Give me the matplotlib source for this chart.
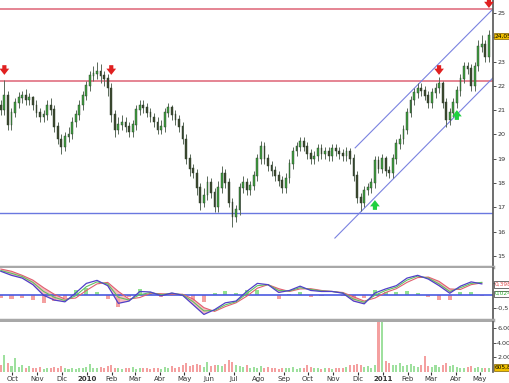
import numpy as np
import pandas as pd
import matplotlib
matplotlib.use('Agg')
from matplotlib import pyplot as plt

# precios (cada barra ~3 sesiones)
close = [21.0, 21.6, 20.4, 20.9, 21.3, 21.5, 21.6, 21.4, 21.5, 21.2,
         20.9, 20.7, 20.8, 21.2, 21.0, 20.3, 19.8, 19.5, 19.9, 20.0,
         20.5, 20.8, 21.2, 21.6, 22.0, 22.4, 22.5, 22.6, 22.4, 22.3,
         21.9, 20.8, 20.2, 20.4, 20.5, 20.3, 20.1, 20.4, 21.0, 21.2,
         21.1, 20.9, 20.7, 20.5, 20.2, 20.3, 20.9, 21.1, 20.8, 20.6,
         20.3, 19.8, 19.0, 18.6, 18.4, 17.8, 17.2, 17.5, 18.0, 17.6,
         17.0, 17.8, 18.4, 18.0, 17.2, 16.6, 16.9, 17.8, 18.0, 17.7,
         17.9, 18.3, 19.0, 19.5, 19.0, 18.7, 18.5, 18.3, 18.1, 17.8,
         18.2, 18.8, 19.3, 19.5, 19.7, 19.5, 19.2, 19.0, 19.1, 19.4,
         19.2, 19.3, 19.1, 19.4, 19.3, 19.2, 19.1, 19.3, 19.0, 18.3,
         17.4, 17.2, 17.7, 17.8, 18.0, 18.9, 18.6, 19.0, 18.5, 18.4,
         19.0, 19.6, 19.8, 20.2, 20.9, 21.4, 21.7, 21.9, 21.8, 21.6,
         21.3, 21.7, 21.9, 22.1, 21.3, 20.6, 20.9, 21.3, 21.8, 22.3,
         22.8, 22.7, 22.0, 22.8, 23.6, 23.7, 23.2, 24.05]
high = [21.4, 22.25, 21.8, 21.1, 21.5, 21.75, 21.8, 21.85, 21.7, 21.6,
        21.4, 21.1, 21.0, 21.4, 21.5, 21.2, 20.5, 20.0, 20.1, 20.3,
        20.7, 21.0, 21.4, 21.8, 22.2, 22.6, 22.8, 23.0, 22.9, 22.6,
        22.5, 22.1, 21.0, 20.7, 20.8, 20.7, 20.5, 20.6, 21.2, 21.4,
        21.4, 21.3, 21.1, 20.9, 20.7, 20.6, 21.1, 21.3, 21.2, 21.0,
        20.8, 20.5, 20.0, 19.2, 18.8, 18.6, 18.0, 17.8, 18.3, 18.2,
        17.8, 18.1, 18.7, 18.6, 18.2, 17.4, 17.1, 18.0, 18.3, 18.2,
        18.1, 18.5, 19.2, 19.75, 19.7, 19.2, 18.9, 18.7, 18.5, 18.3,
        18.4, 19.0, 19.5, 19.7, 19.9, 19.9, 19.7, 19.4, 19.3, 19.6,
        19.6, 19.5, 19.5, 19.6, 19.6, 19.5, 19.4, 19.5, 19.45, 19.2,
        18.5, 17.6, 17.9, 18.0, 18.2, 19.1, 19.1, 19.2, 19.1, 18.7,
        19.2, 19.8, 20.0, 20.4, 21.1, 21.6, 21.9, 22.1, 22.1, 22.0,
        21.8, 21.9, 22.1, 22.35, 22.2, 21.5, 21.1, 21.5, 22.0, 22.5,
        23.0, 23.0, 22.9, 23.0, 23.9, 24.1, 23.9, 24.3]
low = [20.8, 20.8, 20.2, 20.2, 20.7, 21.1, 21.3, 21.2, 21.2, 21.0,
       20.7, 20.5, 20.5, 20.6, 20.8, 20.1, 19.6, 19.2, 19.3, 19.7,
       19.8, 20.3, 20.6, 21.0, 21.4, 21.8, 22.2, 22.3, 22.1, 22.0,
       21.6, 20.5, 19.9, 20.0, 20.2, 20.1, 19.9, 19.9, 20.2, 20.8,
       20.9, 20.7, 20.5, 20.3, 20.0, 20.0, 20.1, 20.7, 20.6, 20.4,
       20.1, 19.6, 18.8, 18.3, 18.2, 17.5, 16.9, 17.0, 17.3, 17.4,
       16.8, 16.8, 17.6, 17.8, 17.0, 16.2, 16.4, 16.7, 17.6, 17.5,
       17.5, 17.7, 18.1, 18.8, 18.8, 18.5, 18.3, 18.1, 17.9, 17.6,
       17.6, 18.0, 18.6, 19.1, 19.3, 19.3, 19.0, 18.8, 18.8, 18.9,
       19.0, 19.0, 18.9, 18.9, 19.1, 19.0, 18.9, 18.9, 18.8, 18.1,
       17.2, 16.85, 17.0, 17.5, 17.6, 17.8, 18.4, 18.4, 18.3, 18.2,
       18.2, 18.8, 19.4, 19.6, 20.0, 20.7, 21.2, 21.5, 21.6, 21.4,
       21.1, 21.1, 21.5, 21.7, 21.1, 20.3, 20.4, 20.7, 21.1, 21.6,
       22.1, 22.5, 21.8, 21.8, 22.6, 23.4, 23.0, 23.0]
first_open = 21.2
volume = [900, 2300, 1200, 800, 1900, 700, 1000, 600, 800, 500,
          600, 700, 400, 500, 600, 700, 500, 800, 600, 400,
          500, 400, 600, 500, 700, 1100, 600, 500, 700, 600,
          800, 900, 600, 500, 400, 600, 500, 700, 400, 500,
          600, 500, 400, 500, 600, 400, 700, 500, 800, 600,
          700, 900, 1200, 800, 1000, 1100, 900, 700, 1300, 800,
          1000, 900, 800, 1100, 1600, 1300, 900, 800, 700, 1000,
          600, 700, 500, 800, 600, 700, 500, 600, 400, 500,
          600, 500, 700, 400, 500, 600, 1000, 700, 500, 600,
          400, 500, 600, 400, 500, 600, 500, 700, 900, 1000,
          1100, 900, 700, 800, 600, 1000, 7500, 7500, 1500, 1200,
          900, 1000, 1200, 800, 900, 1100, 800, 700, 900, 2200,
          800, 700, 900, 700, 1000, 1200, 800, 900, 700, 600,
          500, 700, 800, 600, 700, 500, 600, 600]

# MACD (una muestra cada 3 barras)
macd = [0.95, 0.79, 0.68, 0.42, 0.0, -0.19, -0.26, 0.09, 0.47, 0.59,
        0.38, -0.32, -0.23, 0.15, 0.13, -0.02, 0.09, 0.0, -0.38, -0.76,
        -0.57, -0.30, -0.23, 0.15, 0.47, 0.42, 0.11, 0.19, 0.36, 0.19,
        0.15, 0.15, 0.08, -0.23, -0.34, 0.09, 0.25, 0.38, 0.68, 0.79,
        0.64, 0.38, 0.08, 0.36, 0.53, 0.45]
senal = [1.04, 0.95, 0.79, 0.60, 0.30, 0.04, -0.15, -0.11, 0.19, 0.45,
         0.51, 0.15, -0.15, -0.09, 0.08, 0.06, 0.04, 0.04, -0.15, -0.49,
         -0.64, -0.45, -0.30, -0.04, 0.28, 0.42, 0.26, 0.15, 0.25, 0.26,
         0.19, 0.15, 0.11, -0.06, -0.23, -0.11, 0.11, 0.26, 0.51, 0.70,
         0.72, 0.55, 0.25, 0.23, 0.42, 0.49]
verde = [0.98, 0.87, 0.74, 0.51, 0.15, -0.08, -0.21, -0.02, 0.34, 0.53,
         0.45, -0.08, -0.19, 0.02, 0.11, 0.02, 0.08, 0.02, -0.26, -0.62,
         -0.60, -0.38, -0.26, 0.06, 0.38, 0.42, 0.19, 0.17, 0.30, 0.23,
         0.17, 0.15, 0.09, -0.15, -0.28, 0.0, 0.19, 0.32, 0.60, 0.76,
         0.68, 0.45, 0.15, 0.30, 0.47, 0.51]

# lineas dibujadas
resistencias = [25.15, 22.2]
soportes = [16.78]
canal_sup = [('2010-11-28', 19.45), ('2011-05-17', 25.16)]
canal_inf = [('2010-11-03', 15.74), ('2011-05-17', 22.33)]
venta_bar = [1, 31, 123, 137]
venta_niv = [22.45, 22.45, 22.45, 25.2]
compra_bar = [105, 128]
compra_niv = [17.3, 21.0]

meses = ['Ene', 'Feb', 'Mar', 'Abr', 'May', 'Jun', 'Jul', 'Ago', 'Sep', 'Oct', 'Nov', 'Dic']

fechas = pd.date_range('2009-09-17', '2011-05-12', periods=len(close))
x = fechas.to_numpy()
c = np.array(close)
o = np.r_[first_open, c[:-1]]
h = np.array(high)
l = np.array(low)
sube = c >= o
x0 = pd.Timestamp('2009-09-16')
x1 = pd.Timestamp('2011-05-17')

fig = plt.figure(figsize=(5.1, 3.83), dpi=100)
W = 493 / 510
ax1 = fig.add_axes([0, 1 - 267 / 383, W, 267 / 383])
ax2 = fig.add_axes([0, 1 - 320 / 383, W, 52 / 383])
ax3 = fig.add_axes([0, 1 - 372 / 383, W, 50 / 383])

for ax in (ax1, ax2, ax3):
    ax.set_xlim(x0, x1)
    for s in ('left', 'top'):
        ax.spines[s].set_visible(False)
    ax.spines['right'].set_color('#555555')
    ax.spines['right'].set_linewidth(1.2)
    ax.yaxis.tick_right()
    ax.tick_params(axis='y', labelsize=4.6, length=2, width=0.6, pad=1, colors='#333333')
    ax.tick_params(axis='x', length=0, labelbottom=False)
for ax in (ax1, ax2):
    ax.spines['bottom'].set_color('#a8a8a8')
    ax.spines['bottom'].set_linewidth(2.5)
ax3.spines['bottom'].set_visible(False)

# velas
ancho = pd.Timedelta(days=2.2)
colores = np.where(sube, '#40a040', '#3e4a30')
ax1.vlines(x, l, h, color='#5a6a5a', lw=0.7, zorder=2)
ax1.bar(x, np.abs(c - o) + 0.03, bottom=np.minimum(c, o), width=ancho,
        color=colores, edgecolor='#2a3a2a', linewidth=0.3, zorder=3)

for r in resistencias:
    ax1.axhline(r, color='#e07080', lw=1.2, zorder=1)
for s in soportes:
    ax1.axhline(s, color='#6a78e0', lw=1.0, zorder=1)
for linea in (canal_sup, canal_inf):
    ax1.plot([pd.Timestamp(d) for d, _ in linea], [p for _, p in linea],
             color='#7a82e0', lw=0.8, zorder=1)

flecha = dict(arrowstyle='simple,head_width=0.7,head_length=0.45,tail_width=0.3',
              lw=0, shrinkA=0, shrinkB=0)
for b, v in zip(venta_bar, venta_niv):
    ax1.annotate('', xy=(x[b], v), xytext=(0, 7), textcoords='offset points',
                 arrowprops=dict(flecha, color='#e02020'))
for b, v in zip(compra_bar, compra_niv):
    ax1.annotate('', xy=(x[b], v), xytext=(0, -7), textcoords='offset points',
                 arrowprops=dict(flecha, color='#20d040'))

ax1.set_ylim(14.55, 25.53)
ax1.set_yticks(range(15, 26))
ax1.set_yticklabels(['' if v == 24 else str(v) for v in range(15, 26)])
caja = dict(fontsize=4.2, va='center', ha='left', clip_on=False)
ax1.text(1.004, close[-1], '24,05', transform=ax1.get_yaxis_transform(),
         bbox=dict(boxstyle='square,pad=0.12', fc='#f0c000', ec='#806000', lw=0.5), **caja)

# MACD
xm = x[::3]
m = np.array(macd)
s = np.array(senal)
hist = m - s
ax2.bar(xm, hist, width=pd.Timedelta(days=5), color=np.where(hist >= 0, '#90e090', '#f4a0a0'), zorder=1)
ax2.fill_between(xm, m, s, where=s > m, interpolate=True, color='#f4a0a8', alpha=0.7, lw=0, zorder=2)
ax2.axhline(0, color='#4a5ae0', lw=1.2, zorder=2)
ax2.plot(xm, s, color='#e06070', lw=0.8, zorder=3)
ax2.plot(xm, verde, color='#60c060', lw=0.8, zorder=3)
ax2.plot(xm, m, color='#5040c8', lw=0.9, zorder=4)
ax2.set_ylim(-0.98, 1.08)
ax2.set_yticks([-0.5, 0.5])
ax2.set_yticklabels(['-0,5', ''])
ax2.text(1.004, 0.43, '0,398', transform=ax2.get_yaxis_transform(), color='#e05050',
         bbox=dict(boxstyle='square,pad=0.12', fc='white', ec='#333333', lw=0.5), **caja)
ax2.text(1.004, 0.06, '0,024', transform=ax2.get_yaxis_transform(), color='#30b030',
         bbox=dict(boxstyle='square,pad=0.12', fc='white', ec='#333333', lw=0.5), **caja)

# volumen
ax3.bar(x, volume, width=pd.Timedelta(days=2.5), color=np.where(sube, '#9ee09e', '#f4a0a0'), zorder=2)
ax3.set_ylim(0, 6830)
ax3.set_yticks([2000, 4000, 6000])
ax3.set_yticklabels(['2.000K', '4.000K', '6.000K'])
ax3.text(1.004, 605, '605,85K', transform=ax3.get_yaxis_transform(),
         bbox=dict(boxstyle='square,pad=0.12', fc='#f0c000', ec='#806000', lw=0.5), **caja)

inicios = pd.date_range('2009-10-01', '2011-05-01', freq='MS')
etiquetas = [str(d.year) if d.month == 1 else meses[d.month - 1] for d in inicios]
ax3.set_xticks(inicios)
ax3.set_xticklabels(etiquetas)
ax3.tick_params(axis='x', labelbottom=True, labelsize=5, length=2, pad=1, colors='#333333')
for t in ax3.get_xticklabels():
    if t.get_text().isdigit():
        t.set_fontweight('bold')

fig.savefig('out.png', dpi=100, facecolor='white')
